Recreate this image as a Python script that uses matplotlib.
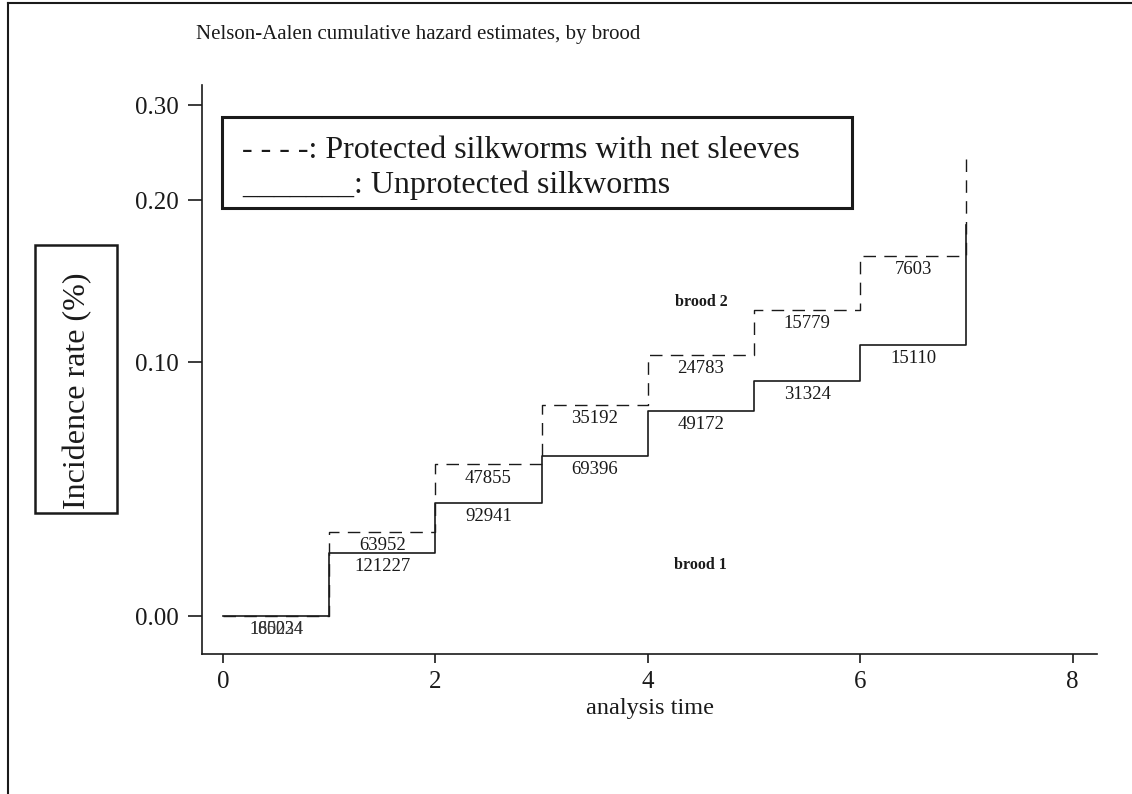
import numpy as np
import matplotlib
matplotlib.use("Agg")
import matplotlib.pyplot as plt
from matplotlib.lines import Line2D
from matplotlib.patches import Rectangle

plt.rcParams['font.family'] = ['Liberation Serif', 'DejaVu Serif']

# ---- data ----
times = [0, 1, 2, 3, 4, 5, 6, 7]
protected = [0.0, 0.0331, 0.0598, 0.0831, 0.1043, 0.1321, 0.1654, 0.2442]
unprotected = [0.0, 0.0248, 0.0445, 0.0630, 0.0807, 0.0925, 0.1105, 0.1846]
protected_n = ["185024", "63952", "47855", "35192", "24783", "15779", "7603"]
unprotected_n = ["160234", "121227", "92941", "69396", "49172", "31324", "15110"]
xticks = [0, 2, 4, 6, 8]
yticks = [0.0, 0.1, 0.2, 0.3]
ytick_labels = ["0.00", "0.10", "0.20", "0.30"]
brood_labels = [("brood 2", 4.5, 0.137), ("brood 1", 4.5, 0.020)]

# piecewise-linear y scale matching the printed axis
_kv = [-0.1, 0.0, 0.1, 0.2, 0.3, 0.5]
_kp = [-254, 0, 254, 416, 511, 701]
def fwd(v):
    return np.interp(v, _kv, _kp)
def inv(p):
    return np.interp(p, _kp, _kv)

ink = "#1a1a1a"
W, H = 1132, 794
fig = plt.figure(figsize=(W / 100, H / 100), dpi=100)
ax = fig.add_axes([202 / W, 1 - 654 / H, (1097 - 202) / W, (654 - 85) / H])
ax.set_yscale('function', functions=(fwd, inv))

ax.step(times, unprotected, where='post', color=ink, lw=1.2)
ax.step(times, protected, where='post', color=ink, lw=1.0, dashes=(9, 6))

ax.set_xlim(-0.1977, 8.23)
ax.set_ylim(-0.01495, 0.3211)

for i in range(len(protected_n)):
    xc = (times[i] + times[i + 1]) / 2
    if i == 0:
        for lab in (protected_n[i], unprotected_n[i]):
            ax.annotate(lab, (xc, 0), xytext=(0, -10), textcoords='offset points',
                        ha='center', va='center', fontsize=13, color="#333")
        continue
    ax.annotate(protected_n[i], (xc, protected[i]), xytext=(0, -10), textcoords='offset points',
                ha='center', va='center', fontsize=13.5, color=ink)
    ax.annotate(unprotected_n[i], (xc, unprotected[i]), xytext=(0, -10), textcoords='offset points',
                ha='center', va='center', fontsize=13.5, color=ink)

for txt, bx, by in brood_labels:
    ax.text(bx, by, txt, ha='center', va='center', fontsize=11.5, color=ink, fontweight='bold')

ax.set_xticks(xticks)
ax.set_yticks(yticks)
ax.set_yticklabels(ytick_labels)
ax.tick_params(axis='y', direction='out', length=10, width=1.2, colors=ink,
               labelsize=18, pad=7)
ax.tick_params(axis='x', direction='out', length=6.5, width=1.2, colors=ink,
               labelsize=18, pad=6)
ax.minorticks_off()
for s in ['top', 'right']:
    ax.spines[s].set_visible(False)
for s in ['left', 'bottom']:
    ax.spines[s].set_color(ink)
    ax.spines[s].set_linewidth(1.2)

ax.set_xlabel("analysis time", fontsize=17.5, color=ink, labelpad=3)

# title
fig.text(196 / W, 1 - 35 / H, "Nelson-Aalen cumulative hazard estimates, by brood",
         ha='left', va='center', fontsize=15, color=ink)

# legend box
fig.patches.append(Rectangle((222 / W, 1 - 208 / H), 630 / W, 91 / H,
                             transform=fig.transFigure, fill=False, ec=ink, lw=2.2))
fig.text(242 / W, 1 - 150 / H, "- - - -: Protected silkworms with net sleeves",
         ha='left', va='center', fontsize=23, color=ink)
fig.text(242 / W, 1 - 185 / H, "_______: Unprotected silkworms",
         ha='left', va='center', fontsize=23, color=ink)

# y label box
fig.patches.append(Rectangle((35 / W, 1 - 513 / H), 82 / W, 268 / H,
                             transform=fig.transFigure, fill=False, ec=ink, lw=1.8))
fig.text(78 / W, 1 - 391 / H, "Incidence rate (%)", rotation=90,
         ha='center', va='center', fontsize=23, color=ink)

# page frame
fig.add_artist(Line2D([8 / W, 8 / W], [0, 1 - 3 / H], transform=fig.transFigure,
                      color=ink, lw=1.5))
fig.add_artist(Line2D([8 / W, 1], [1 - 3 / H, 1 - 3 / H], transform=fig.transFigure,
                      color=ink, lw=1.5))

fig.savefig("out.png", dpi=100)
